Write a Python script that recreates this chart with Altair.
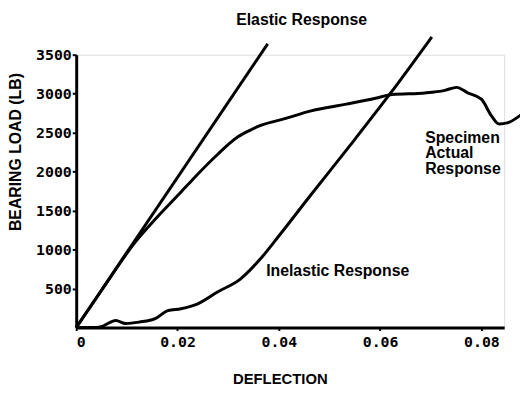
import altair as alt
import pandas as pd

# Elastic response (straight line)
elastic_x = [0.0, 0.0378]
elastic_y = [0, 3640]

# Specimen actual response
actual_x = [0.0, 0.005, 0.0117, 0.0156, 0.0207, 0.0230, 0.0279, 0.0318, 0.0343, 0.0363,
            0.0410, 0.0462, 0.0533, 0.0591, 0.0624, 0.0689, 0.0728, 0.0751, 0.0773,
            0.0800, 0.0820, 0.0835, 0.0851, 0.0880]
actual_y = [0, 475, 1100, 1390, 1740, 1900, 2220, 2440, 2530, 2590,
            2676, 2777, 2866, 2942, 2990, 3010, 3043, 3081, 3010,
            2929, 2714, 2612, 2625, 2739]

# Inelastic response
inelastic_x = [0.0, 0.004, 0.0051, 0.0065, 0.0078, 0.0098, 0.0125, 0.0156, 0.0181, 0.0207,
               0.0240, 0.0279, 0.0324, 0.0363, 0.0402, 0.0462, 0.0540, 0.0619, 0.0702]
inelastic_y = [0, 0, 13, 60, 89, 51, 70, 114, 216, 241,
               304, 456, 621, 875, 1190, 1690, 2330, 2993, 3728]

# Annotations
ann_text = ["Elastic Response", "Inelastic Response", "Specimen", "Actual", "Response"]
ann_x = [0.0445, 0.0375, 0.0689, 0.0689, 0.0689]
ann_y = [3944, 723, 2435, 2235, 2030]
ann_align = ["center", "left", "left", "left", "left"]

x_ticks = [0, 0.02, 0.04, 0.06, 0.08]
y_ticks = [500, 1000, 1500, 2000, 2500, 3000, 3500]

rows = []
for name, xs, ys in [("Elastic", elastic_x, elastic_y),
                     ("Actual", actual_x, actual_y),
                     ("Inelastic", inelastic_x, inelastic_y)]:
    for i, (a, b) in enumerate(zip(xs, ys)):
        rows.append({"series": name, "i": i, "x": a, "y": b})
lines_df = pd.DataFrame(rows)
ann_df = pd.DataFrame({"label": ann_text, "x": ann_x, "y": ann_y, "align": ann_align})

xscale = alt.Scale(domain=[0, 0.0845], nice=False, zero=False)
yscale = alt.Scale(domain=[0, 3500], nice=False)

lines = alt.Chart(lines_df).mark_line(color="black", strokeWidth=3, clip=False,
                                      interpolate="monotone").encode(
    x=alt.X("x:Q", scale=xscale,
            axis=alt.Axis(values=x_ticks, title="DEFLECTION",
                          labelExpr="datum.value == 0 ? '0' : format(datum.value, '.2f')",
                          labelFont="DejaVu Sans Mono", labelFontSize=15, labelFontWeight="bold",
                          labelColor="black", labelPadding=4, tickSize=3, tickWidth=2,
                          tickColor="black", domainColor="black", domainWidth=3,
                          grid=False, titleFont="Liberation Sans", titleFontSize=15,
                          titleFontWeight="bold", titleColor="black",
                          titleX=206, titleY=52, titleAlign="center", titleBaseline="middle")),
    y=alt.Y("y:Q", scale=yscale,
            axis=alt.Axis(values=y_ticks, title="BEARING LOAD (LB)", format="d",
                          labelFont="DejaVu Sans Mono", labelFontSize=15, labelFontWeight="bold",
                          labelColor="black", labelPadding=1, tickSize=4, tickWidth=2,
                          tickColor="black", domainColor="black", domainWidth=3,
                          grid=False, titleFont="Liberation Sans", titleFontSize=16,
                          titleFontWeight="bold", titleColor="black", titleAngle=270,
                          titleX=-61, titleY=98, titleAlign="center", titleBaseline="middle")),
    detail="series:N",
    order="i:Q",
)

def ann(align):
    d = ann_df[ann_df["align"] == align]
    return alt.Chart(d).mark_text(font="Liberation Sans", fontSize=16, fontWeight="bold",
                                  color="black", align=align, baseline="middle",
                                  clip=False).encode(
        x=alt.X("x:Q", scale=xscale), y=alt.Y("y:Q", scale=yscale), text="label:N")

chart = alt.layer(lines, ann("center"), ann("left")).properties(
    width=433, height=276,
    autosize=alt.AutoSizeParams(type="none"),
    padding={"left": 69, "top": 45, "right": 16, "bottom": 64},
).configure_view(stroke=None).configure(background="white")

chart.save("out.html", embed_options={"renderer": "svg", "actions": False})
